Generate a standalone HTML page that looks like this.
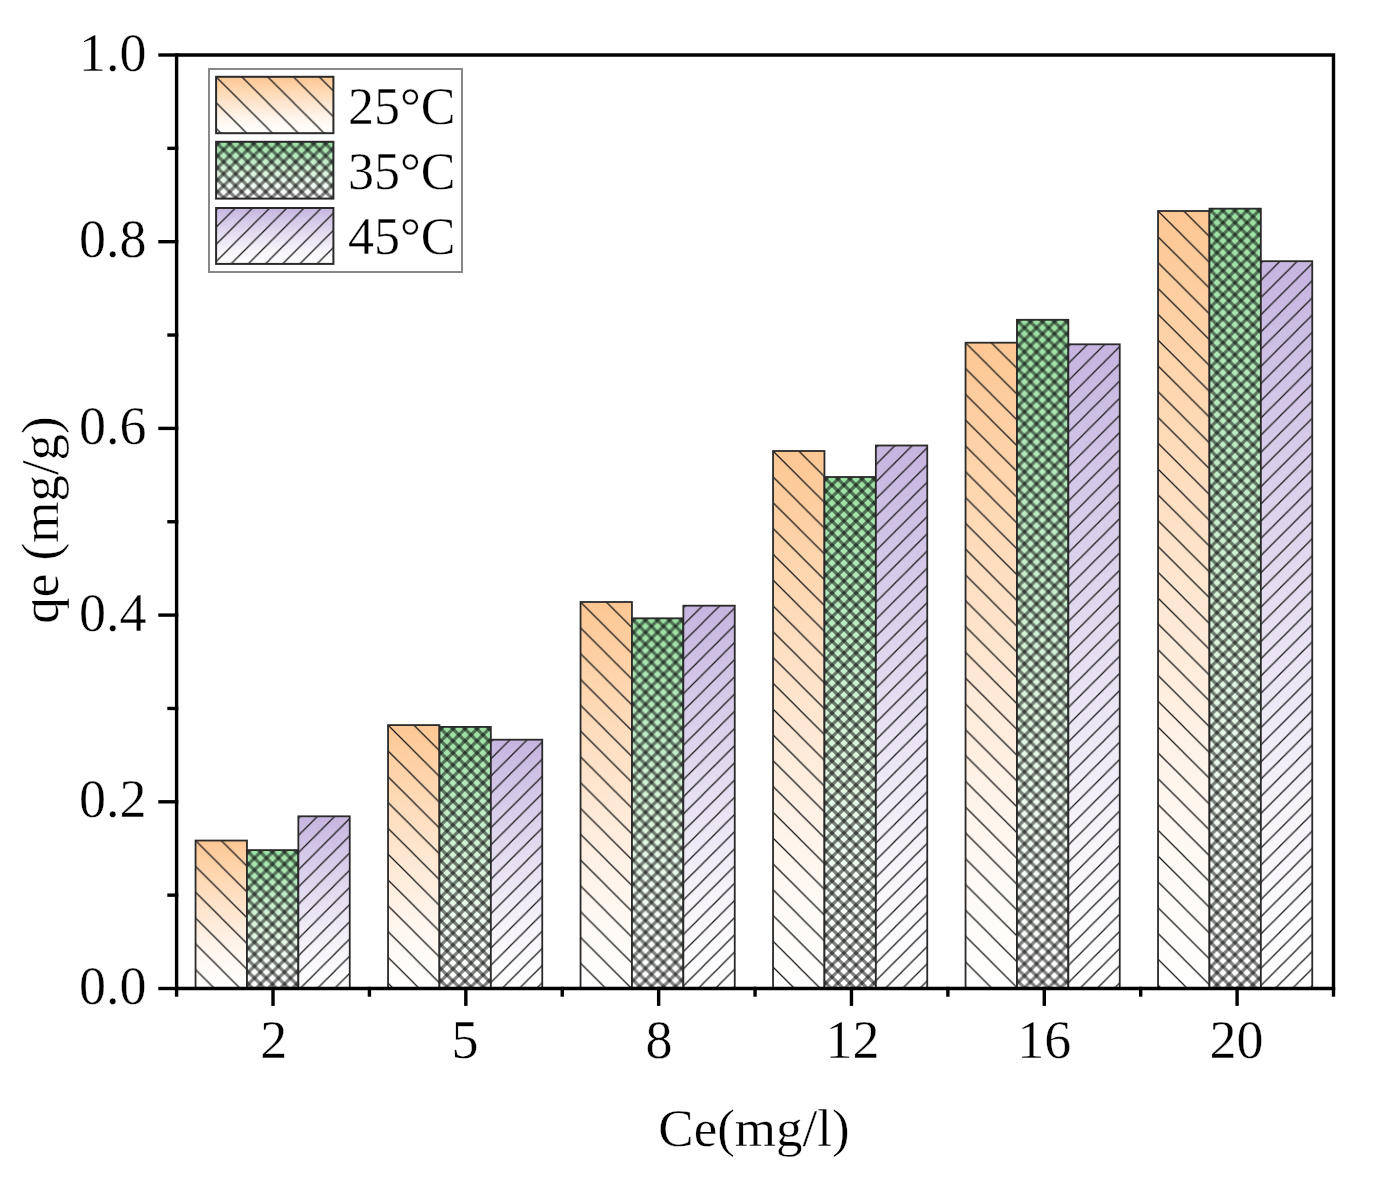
<!DOCTYPE html><html><head><meta charset="utf-8"><style>html,body{margin:0;padding:0;background:#fff;}svg{display:block;}text{font-family:'Liberation Serif', serif;fill:#000;stroke:#fff;stroke-width:0.35px;}</style></head><body>
<svg width="1375" height="1179" viewBox="0 0 1375 1179">
<defs>
<linearGradient id="go" x1="0" y1="0" x2="0" y2="1"><stop offset="0" stop-color="#fdc793"/><stop offset="0.25" stop-color="#fed8b3"/><stop offset="0.5" stop-color="#fee7d2"/><stop offset="0.75" stop-color="#fff6ee"/><stop offset="1" stop-color="#ffffff"/></linearGradient>
<linearGradient id="gg" x1="0" y1="0" x2="0" y2="1"><stop offset="0" stop-color="#9adfa2"/><stop offset="0.25" stop-color="#b8e9be"/><stop offset="0.5" stop-color="#d5f2d8"/><stop offset="0.75" stop-color="#effaf0"/><stop offset="1" stop-color="#ffffff"/></linearGradient>
<linearGradient id="gp" x1="0" y1="0" x2="0" y2="1"><stop offset="0" stop-color="#c6b5df"/><stop offset="0.25" stop-color="#d7cbe9"/><stop offset="0.5" stop-color="#e7e0f2"/><stop offset="0.75" stop-color="#f6f3fa"/><stop offset="1" stop-color="#ffffff"/></linearGradient>
<pattern id="h1" patternUnits="userSpaceOnUse" width="25.8" height="25.8"><path d="M-3,-3 L28.8,28.8 M22.8,-3 L28.8,3 M-3,22.8 L3,28.8" stroke="#1a1a1a" stroke-width="1.25" fill="none"/></pattern>
<pattern id="h3" patternUnits="userSpaceOnUse" x="2" y="0" width="17.2" height="17.2"><path d="M-3,20.2 L20.2,-3 M-3,3 L3,-3 M14.2,20.2 L20.2,14.2" stroke="#1a1a1a" stroke-width="1.25" fill="none"/></pattern>
<pattern id="h2" patternUnits="userSpaceOnUse" x="1.5" y="2" width="12" height="12"><g stroke="#000000" stroke-opacity="0.5" stroke-width="3.2" fill="none"><path d="M-3,-3 L15,15 M9,-3 L15,3 M-3,9 L3,15"/><path d="M-3,15 L15,-3 M-3,3 L3,-3 M9,15 L15,9"/></g></pattern>
</defs>
<g transform="translate(195.55,840.55)"><rect width="51.40" height="147.95" fill="url(#go)"/><rect width="51.40" height="147.95" fill="url(#h1)"/><rect width="51.40" height="147.95" fill="none" stroke="#2a2a2a" stroke-width="1.8"/></g>
<g transform="translate(246.95,850.10)"><rect width="51.40" height="138.40" fill="url(#gg)"/><rect width="51.40" height="138.40" fill="url(#h2)"/><rect width="51.40" height="138.40" fill="none" stroke="#2a2a2a" stroke-width="1.8"/></g>
<g transform="translate(298.35,816.30)"><rect width="51.40" height="172.20" fill="url(#gp)"/><rect width="51.40" height="172.20" fill="url(#h3)"/><rect width="51.40" height="172.20" fill="none" stroke="#2a2a2a" stroke-width="1.8"/></g>
<g transform="translate(388.05,725.10)"><rect width="51.40" height="263.40" fill="url(#go)"/><rect width="51.40" height="263.40" fill="url(#h1)"/><rect width="51.40" height="263.40" fill="none" stroke="#2a2a2a" stroke-width="1.8"/></g>
<g transform="translate(439.45,726.90)"><rect width="51.40" height="261.60" fill="url(#gg)"/><rect width="51.40" height="261.60" fill="url(#h2)"/><rect width="51.40" height="261.60" fill="none" stroke="#2a2a2a" stroke-width="1.8"/></g>
<g transform="translate(490.85,739.70)"><rect width="51.40" height="248.80" fill="url(#gp)"/><rect width="51.40" height="248.80" fill="url(#h3)"/><rect width="51.40" height="248.80" fill="none" stroke="#2a2a2a" stroke-width="1.8"/></g>
<g transform="translate(580.55,602.00)"><rect width="51.40" height="386.50" fill="url(#go)"/><rect width="51.40" height="386.50" fill="url(#h1)"/><rect width="51.40" height="386.50" fill="none" stroke="#2a2a2a" stroke-width="1.8"/></g>
<g transform="translate(631.95,618.30)"><rect width="51.40" height="370.20" fill="url(#gg)"/><rect width="51.40" height="370.20" fill="url(#h2)"/><rect width="51.40" height="370.20" fill="none" stroke="#2a2a2a" stroke-width="1.8"/></g>
<g transform="translate(683.35,605.70)"><rect width="51.40" height="382.80" fill="url(#gp)"/><rect width="51.40" height="382.80" fill="url(#h3)"/><rect width="51.40" height="382.80" fill="none" stroke="#2a2a2a" stroke-width="1.8"/></g>
<g transform="translate(773.05,451.00)"><rect width="51.40" height="537.50" fill="url(#go)"/><rect width="51.40" height="537.50" fill="url(#h1)"/><rect width="51.40" height="537.50" fill="none" stroke="#2a2a2a" stroke-width="1.8"/></g>
<g transform="translate(824.45,477.00)"><rect width="51.40" height="511.50" fill="url(#gg)"/><rect width="51.40" height="511.50" fill="url(#h2)"/><rect width="51.40" height="511.50" fill="none" stroke="#2a2a2a" stroke-width="1.8"/></g>
<g transform="translate(875.85,445.50)"><rect width="51.40" height="543.00" fill="url(#gp)"/><rect width="51.40" height="543.00" fill="url(#h3)"/><rect width="51.40" height="543.00" fill="none" stroke="#2a2a2a" stroke-width="1.8"/></g>
<g transform="translate(965.55,342.70)"><rect width="51.40" height="645.80" fill="url(#go)"/><rect width="51.40" height="645.80" fill="url(#h1)"/><rect width="51.40" height="645.80" fill="none" stroke="#2a2a2a" stroke-width="1.8"/></g>
<g transform="translate(1016.95,319.80)"><rect width="51.40" height="668.70" fill="url(#gg)"/><rect width="51.40" height="668.70" fill="url(#h2)"/><rect width="51.40" height="668.70" fill="none" stroke="#2a2a2a" stroke-width="1.8"/></g>
<g transform="translate(1068.35,344.30)"><rect width="51.40" height="644.20" fill="url(#gp)"/><rect width="51.40" height="644.20" fill="url(#h3)"/><rect width="51.40" height="644.20" fill="none" stroke="#2a2a2a" stroke-width="1.8"/></g>
<g transform="translate(1158.05,211.00)"><rect width="51.40" height="777.50" fill="url(#go)"/><rect width="51.40" height="777.50" fill="url(#h1)"/><rect width="51.40" height="777.50" fill="none" stroke="#2a2a2a" stroke-width="1.8"/></g>
<g transform="translate(1209.45,208.65)"><rect width="51.40" height="779.85" fill="url(#gg)"/><rect width="51.40" height="779.85" fill="url(#h2)"/><rect width="51.40" height="779.85" fill="none" stroke="#2a2a2a" stroke-width="1.8"/></g>
<g transform="translate(1260.85,261.20)"><rect width="51.40" height="727.30" fill="url(#gp)"/><rect width="51.40" height="727.30" fill="url(#h3)"/><rect width="51.40" height="727.30" fill="none" stroke="#2a2a2a" stroke-width="1.8"/></g>
<g stroke="#000" stroke-width="3.4" fill="none" stroke-linecap="square">
<path d="M176.6,55 H1333.5 V988.5 H176.6 Z"/>
<path d="M160,988.5 H176.6"/>
<path d="M160,801.8 H176.6"/>
<path d="M160,615.1 H176.6"/>
<path d="M160,428.4 H176.6"/>
<path d="M160,241.7 H176.6"/>
<path d="M160,55 H176.6"/>
<path d="M169,895.15 H176.6"/>
<path d="M169,708.45 H176.6"/>
<path d="M169,521.75 H176.6"/>
<path d="M169,335.05 H176.6"/>
<path d="M169,148.35 H176.6"/>
<path d="M273.01,988.5 V1004.2"/>
<path d="M465.83,988.5 V1004.2"/>
<path d="M658.64,988.5 V1004.2"/>
<path d="M851.46,988.5 V1004.2"/>
<path d="M1044.28,988.5 V1004.2"/>
<path d="M1237.09,988.5 V1004.2"/>
<path d="M369.42,988.5 V995"/>
<path d="M562.23,988.5 V995"/>
<path d="M755.05,988.5 V995"/>
<path d="M947.87,988.5 V995"/>
<path d="M1140.68,988.5 V995"/>
<path d="M176.6,988.5 V995"/>
<path d="M1333.5,988.5 V995"/>
</g>
<text x="146.5" y="1004.0" font-size="54" text-anchor="end">0.0</text>
<text x="146.5" y="817.3" font-size="54" text-anchor="end">0.2</text>
<text x="146.5" y="630.6" font-size="54" text-anchor="end">0.4</text>
<text x="146.5" y="443.9" font-size="54" text-anchor="end">0.6</text>
<text x="146.5" y="257.2" font-size="54" text-anchor="end">0.8</text>
<text x="146.5" y="70.5" font-size="54" text-anchor="end">1.0</text>
<text x="273.8" y="1058" font-size="54" text-anchor="middle">2</text>
<text x="465.1" y="1058" font-size="54" text-anchor="middle">5</text>
<text x="658.9" y="1058" font-size="54" text-anchor="middle">8</text>
<text x="852.6" y="1058" font-size="54" text-anchor="middle">12</text>
<text x="1044.2" y="1058" font-size="54" text-anchor="middle">16</text>
<text x="1236.5" y="1058" font-size="54" text-anchor="middle">20</text>
<text x="754" y="1146" font-size="53" text-anchor="middle">Ce(mg/l)</text>
<text transform="translate(58,520) rotate(-90)" font-size="53" text-anchor="middle">qe (mg/g)</text>
<rect x="209" y="69" width="253" height="203" fill="#fff" stroke="#888" stroke-width="2"/>
<g transform="translate(216.10,76.80)"><rect width="117.30" height="56.40" fill="url(#go)"/><rect width="117.30" height="56.40" fill="url(#h1)"/><rect width="117.30" height="56.40" fill="none" stroke="#2a2a2a" stroke-width="2"/></g>
<text x="348" y="124.0" font-size="52">25°C</text>
<g transform="translate(216.10,141.80)"><rect width="117.30" height="56.80" fill="url(#gg)"/><rect width="117.30" height="56.80" fill="url(#h2)"/><rect width="117.30" height="56.80" fill="none" stroke="#2a2a2a" stroke-width="2"/></g>
<text x="348" y="189.2" font-size="52">35°C</text>
<g transform="translate(216.10,208.00)"><rect width="117.30" height="55.90" fill="url(#gp)"/><rect width="117.30" height="55.90" fill="url(#h3)"/><rect width="117.30" height="55.90" fill="none" stroke="#2a2a2a" stroke-width="2"/></g>
<text x="348" y="253.8" font-size="52">45°C</text>
</svg></body></html>
